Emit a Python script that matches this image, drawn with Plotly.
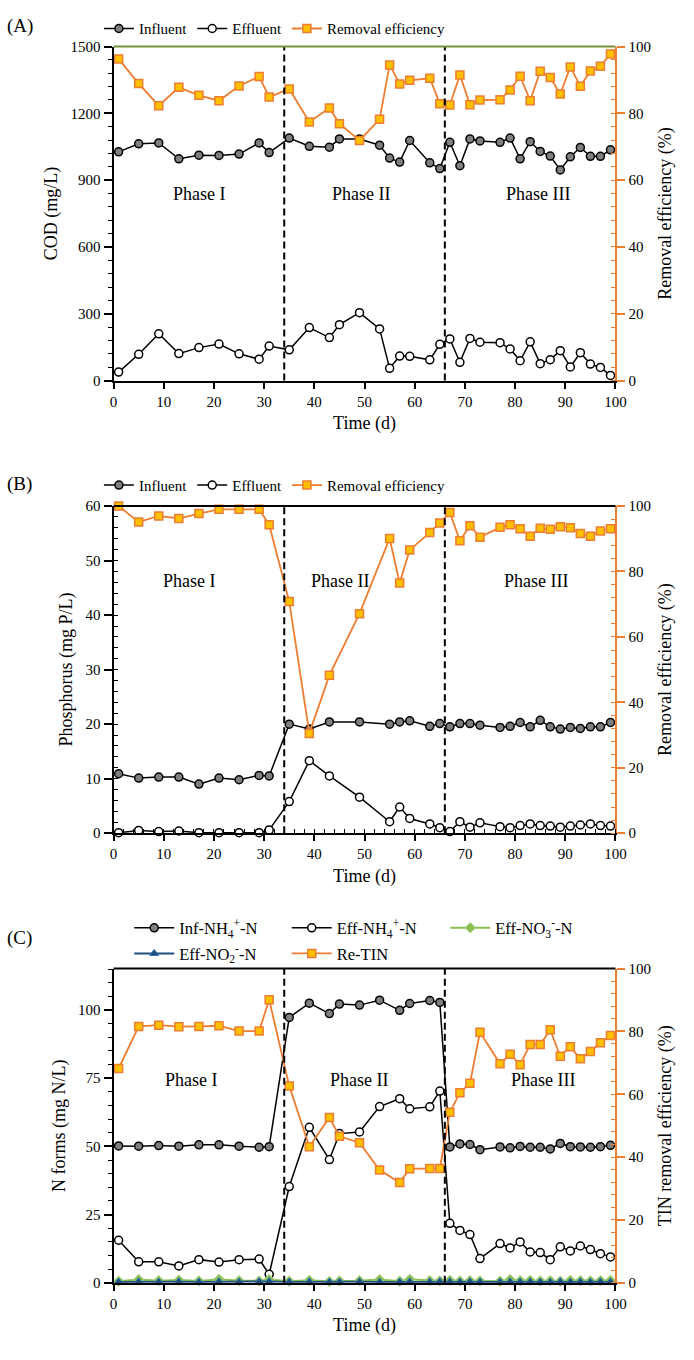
import plotly.graph_objects as go

# ---------------- Panel A: COD ----------------
days_a = [1, 5, 9, 13, 17, 21, 25, 29, 31, 35, 39, 43, 45, 49, 53, 55, 57, 59, 63, 65,
          67, 69, 71, 73, 77, 79, 81, 83, 85, 87, 89, 91, 93, 95, 97, 99]
cod_inf = [1027, 1063, 1067, 996, 1012, 1011, 1017, 1067, 1024, 1089, 1052, 1048, 1085, 1085, 1057, 999, 981, 1078, 978, 952,
           1070, 965, 1085, 1076, 1070, 1089, 996, 1073, 1029, 1008, 946, 1005, 1047, 1007, 1007, 1036]
cod_eff = [38, 118, 210, 121, 148, 164, 120, 96, 155, 138, 238, 193, 251, 305, 232, 55, 110, 109, 93, 163,
           187, 82, 189, 172, 170, 142, 89, 174, 76, 94, 134, 61, 125, 74, 59, 23]
cod_re = [96.3, 88.9, 82.3, 87.8, 85.4, 83.8, 88.2, 91.0, 84.9, 87.3, 77.4, 81.6, 76.9, 71.9, 78.2, 94.5, 88.8, 89.9, 90.5, 82.9,
          82.5, 91.5, 82.6, 84.0, 84.1, 87.0, 91.1, 83.8, 92.6, 90.7, 85.8, 93.9, 88.1, 92.7, 94.1, 97.8]

# ---------------- Panel B: Phosphorus ----------------
days_b = [1, 5, 9, 13, 17, 21, 25, 29, 31, 35, 39, 43, 49, 55, 57, 59, 63, 65, 67, 69,
          71, 73, 77, 79, 81, 83, 85, 87, 89, 91, 93, 95, 97, 99]
p_inf = [10.9, 10.1, 10.3, 10.3, 9.0, 10.1, 9.8, 10.6, 10.5, 20.0, 19.1, 20.4, 20.4, 20.0, 20.4, 20.6, 19.6, 20.1, 19.5, 20.1,
         20.1, 19.8, 19.4, 19.6, 20.3, 19.5, 20.7, 19.5, 19.1, 19.4, 19.2, 19.5, 19.5, 20.3]
p_eff = [0.1, 0.5, 0.3, 0.4, 0.1, 0.1, 0.1, 0.1, 0.6, 5.8, 13.3, 10.5, 6.6, 2.1, 4.8, 2.7, 1.7, 1.0, 0.3, 2.1,
         1.1, 1.9, 1.2, 1.0, 1.4, 1.7, 1.4, 1.3, 1.1, 1.3, 1.5, 1.7, 1.4, 1.3]
p_re = [100.0, 95.1, 97.0, 96.2, 97.7, 99.0, 99.0, 99.0, 94.3, 70.8, 30.5, 48.3, 67.1, 90.1, 76.5, 86.6, 91.9, 94.8, 98.0, 89.4,
        94.0, 90.5, 93.5, 94.3, 93.1, 90.8, 93.2, 92.9, 93.7, 93.4, 91.6, 90.8, 92.4, 93.1]

# ---------------- Panel C: Nitrogen ----------------
days_c = [1, 5, 9, 13, 17, 21, 25, 29, 31, 35, 39, 43, 45, 49, 53, 57, 59, 63, 65,
          67, 69, 71, 73, 77, 79, 81, 83, 85, 87, 89, 91, 93, 95, 97, 99]
nh4_inf = [50.2, 50.1, 50.3, 50.1, 50.6, 50.6, 50.1, 49.7, 49.9, 97.3, 102.5, 98.7, 102.2, 101.8, 103.6, 99.9, 102.4, 103.5, 102.8,
           49.8, 50.9, 50.7, 48.8, 49.8, 49.5, 50.0, 49.7, 49.7, 49.1, 51.1, 49.9, 49.8, 49.7, 49.9, 50.4]
nh4_eff = [15.6, 7.7, 7.7, 6.2, 8.5, 7.6, 8.5, 8.7, 3.1, 35.3, 57.0, 45.2, 54.7, 55.3, 64.6, 67.5, 63.8, 64.5, 70.3,
           21.8, 19.2, 17.7, 8.9, 14.4, 12.8, 15.0, 11.3, 11.1, 8.5, 13.2, 11.7, 13.5, 12.2, 10.7, 9.5]
no3_eff = [0.6, 1.2, 0.8, 1.0, 0.7, 1.3, 0.8, 0.7, 1.2, 0.6, 0.9, 0.5, 0.7, 0.8, 1.2, 0.6, 1.3, 0.8, 0.7,
           0.9, 0.7, 0.8, 0.7, 0.6, 1.2, 0.8, 0.9, 0.7, 0.8, 0.6, 0.9, 0.8, 0.7, 0.8, 0.9]
no2_eff = [0.3, 0.4, 0.3, 0.4, 0.3, 0.4, 0.3, 0.4, 0.5, 0.3, 0.4, 0.3, 0.3, 0.4, 0.3, 0.3, 0.4, 0.3, 0.4,
           0.4, 0.3, 0.4, 0.3, 0.3, 0.4, 0.3, 0.4, 0.3, 0.3, 0.4, 0.3, 0.4, 0.3, 0.4, 0.3]
tin_re = [68.2, 81.6, 82.0, 81.5, 81.6, 81.8, 80.1, 80.1, 90.1, 62.6, 43.3, 52.6, 46.6, 44.6, 35.9, 31.9, 36.3, 36.4, 36.4,
          54.3, 60.5, 63.5, 79.7, 69.7, 72.7, 69.4, 75.8, 75.8, 80.5, 72.1, 75.1, 71.3, 73.6, 76.4, 78.7]

phase_days = [34, 66]
phase_names = ["Phase I", "Phase II", "Phase III"]

# ---------------- style ----------------
FONT = "Liberation Serif"
ORANGE = "#ED7D31"
GOLD = "#FFC000"
GRAY = "#7F7F7F"
BLUE = "#1F4E79"
GREEN = "#8CC152"
OLIVE = "#77933C"

W, H = 694, 1360
XD = [112 / W, 625 / W]


def ydom(top_px, bot_px):
    return [1 - bot_px / H, 1 - top_px / H]


DOM_A = ydom(39, 377)
DOM_B = ydom(504, 835)
DOM_C = ydom(972, 1290)

fig = go.Figure()

inf_marker = dict(symbol="circle", size=8, color=GRAY, line=dict(color="black", width=1.5))
eff_marker = dict(symbol="circle", size=8, color="white", line=dict(color="black", width=1.5))
re_marker = dict(symbol="square", size=8, color=GOLD, line=dict(color=ORANGE, width=1.5))
blk = dict(color="black", width=1.5)
org = dict(color=ORANGE, width=1.8)

# Panel A traces
fig.add_trace(go.Scatter(x=days_a, y=cod_inf, name="Influent", mode="lines+markers", line=blk,
                         marker=inf_marker, xaxis="x", yaxis="y", legend="legend", cliponaxis=False))
fig.add_trace(go.Scatter(x=days_a, y=cod_eff, name="Effluent", mode="lines+markers", line=blk,
                         marker=eff_marker, xaxis="x", yaxis="y", legend="legend", cliponaxis=False))
fig.add_trace(go.Scatter(x=days_a, y=cod_re, name="Removal efficiency", mode="lines+markers", line=org,
                         marker=re_marker, xaxis="x", yaxis="y2", legend="legend", cliponaxis=False))

# Panel B traces
fig.add_trace(go.Scatter(x=days_b, y=p_inf, name="Influent", mode="lines+markers", line=blk,
                         marker=inf_marker, xaxis="x2", yaxis="y3", legend="legend2", cliponaxis=False))
fig.add_trace(go.Scatter(x=days_b, y=p_eff, name="Effluent", mode="lines+markers", line=blk,
                         marker=eff_marker, xaxis="x2", yaxis="y3", legend="legend2", cliponaxis=False))
fig.add_trace(go.Scatter(x=days_b, y=p_re, name="Removal efficiency", mode="lines+markers", line=org,
                         marker=re_marker, xaxis="x2", yaxis="y4", legend="legend2", cliponaxis=False))

# Panel C traces (one legend box per entry, laid out as a 3+2 grid)
fig.add_trace(go.Scatter(x=days_c, y=nh4_inf, name="Inf-NH<sub>4</sub><sup>+</sup>-N", mode="lines+markers", line=blk,
                         marker=inf_marker, xaxis="x3", yaxis="y5", legend="legend3", cliponaxis=False))
fig.add_trace(go.Scatter(x=days_c, y=nh4_eff, name="Eff-NH<sub>4</sub><sup>+</sup>-N", mode="lines+markers", line=blk,
                         marker=eff_marker, xaxis="x3", yaxis="y5", legend="legend4", cliponaxis=False))
fig.add_trace(go.Scatter(x=days_c, y=no3_eff, name="Eff-NO<sub>3</sub><sup>-</sup>-N", mode="lines+markers",
                         line=dict(color=GREEN, width=2),
                         marker=dict(symbol="diamond", size=8, color=GREEN, line=dict(color="#A9D18E", width=1)),
                         xaxis="x3", yaxis="y5", legend="legend5", cliponaxis=False))
fig.add_trace(go.Scatter(x=days_c, y=no2_eff, name="Eff-NO<sub>2</sub><sup>-</sup>-N", mode="lines+markers",
                         line=dict(color=BLUE, width=2),
                         marker=dict(symbol="triangle-up", size=8, color=BLUE, line=dict(color="#2E75B6", width=1)),
                         xaxis="x3", yaxis="y5", legend="legend6", cliponaxis=False))
fig.add_trace(go.Scatter(x=days_c, y=tin_re, name="Re-TIN", mode="lines+markers", line=org,
                         marker=re_marker, xaxis="x3", yaxis="y6", legend="legend7", cliponaxis=False))

tickfont = dict(family=FONT, size=15, color="black")
titlefont = dict(family=FONT, size=18, color="black")


def xax(anchor, minor=False):
    d = dict(domain=XD, anchor=anchor, range=[0, 100], dtick=10, tick0=0, showgrid=False, zeroline=False,
             showline=True, linecolor="black", linewidth=2, ticks="outside", ticklen=6, tickwidth=1.5,
             tickcolor="black", tickfont=tickfont, title=dict(text="Time (d)", font=titlefont, standoff=8))
    if minor:
        d["minor"] = dict(dtick=2, ticks="inside", ticklen=4, tickwidth=1.2, tickcolor="black")
    return d


def yleft(dom, anchor, rng, dtick, mdtick, title, minor_ticks="outside"):
    return dict(domain=dom, anchor=anchor, range=rng, dtick=dtick, tick0=0, showgrid=False, zeroline=False,
                showline=True, linecolor="black", linewidth=2, ticks="outside", ticklen=8, tickwidth=1.5,
                tickcolor="black", tickfont=tickfont,
                minor=dict(dtick=mdtick, ticks=minor_ticks, ticklen=4, tickwidth=1.2, tickcolor="black"),
                title=dict(text=title, font=titlefont, standoff=8))


def yright(over, anchor, rng, title):
    return dict(overlaying=over, anchor=anchor, side="right", range=rng, dtick=20, tick0=0, showgrid=False,
                zeroline=False, showline=True, linecolor=ORANGE, linewidth=2, ticks="outside", ticklen=8,
                tickwidth=1.5, tickcolor=ORANGE, tickfont=tickfont,
                minor=dict(dtick=4, ticks="inside", ticklen=4, tickwidth=1.2, tickcolor=ORANGE),
                title=dict(text=title, font=titlefont, standoff=8))


shapes = []
annotations = []

panels = [
    ("x", "y", 839, OLIVE, "(A)", 18),
    ("x2", "y3", 46.2, "black", "(B)", 482),
    ("x3", "y5", 74.3, "black", "(C)", 941),
]
phase_x = [[17.1, 49.3, 84.5], [15.1, 45.2, 84.2], [15.6, 48.8, 85.5]]
for (xr, yr, ph_y, topcol, letter, ly), pxs in zip(panels, phase_x):
    for d in phase_days:
        shapes.append(dict(type="line", xref=xr, yref=yr + " domain", x0=d, x1=d, y0=0, y1=1,
                           line=dict(color="black", width=2, dash="7px,4px")))
    shapes.append(dict(type="line", xref=xr + " domain", yref=yr + " domain", x0=0, x1=1, y0=1, y1=1,
                       line=dict(color=topcol, width=2)))
    for name, px in zip(phase_names, pxs):
        annotations.append(dict(text=name, x=px, y=ph_y, xref=xr, yref=yr, showarrow=False,
                                font=dict(family=FONT, size=18, color="black")))
    annotations.append(dict(text=letter, x=1 / W, y=1 - ly / H, xref="paper", yref="paper", showarrow=False,
                            xanchor="left", yanchor="middle", font=dict(family=FONT, size=19, color="black")))


def leg(x_px, y_px, size=15, itemwidth=30):
    return dict(orientation="h", x=x_px / W, y=1 - y_px / H, xanchor="left", yanchor="middle",
                font=dict(family=FONT, size=size, color="black"), bgcolor="rgba(0,0,0,0)", borderwidth=0,
                itemwidth=itemwidth, tracegroupgap=0)


fig.update_layout(
    width=W, height=H, margin=dict(l=0, r=0, t=0, b=0),
    paper_bgcolor="white", plot_bgcolor="white", font=dict(family=FONT, color="black"),
    xaxis=xax("y"),
    yaxis=yleft(DOM_A, "x", [0, 1500], 300, 60, "COD (mg/L)"),
    yaxis2=yright("y", "x", [0, 100], "Removal efficiency (%)"),
    xaxis2=xax("y3", minor=True),
    yaxis3=yleft(DOM_B, "x2", [0, 60], 10, 2, "Phosphorus (mg P/L)", "inside"),
    yaxis4=yright("y3", "x2", [0, 100], "Removal efficiency (%)"),
    xaxis3=xax("y5"),
    yaxis5=yleft(DOM_C, "x3", [0, 115.2], 25, 5, "N forms (mg N/L)"),
    yaxis6=yright("y5", "x3", [0, 100], "TIN removal efficiency (%)"),
    legend=leg(97, 21),
    legend2=leg(97, 483),
    legend3=leg(128, 931, 16.5, 40),
    legend4=leg(289, 931, 16.5, 40),
    legend5=leg(451, 931, 16.5, 40),
    legend6=leg(128, 957, 16.5, 40),
    legend7=leg(289, 957, 16.5, 40),
    shapes=shapes,
    annotations=annotations,
)

fig.write_html("out.html", config={"displayModeBar": False},
               post_script="document.body.style.margin='0px';document.body.style.overflow='hidden';")
